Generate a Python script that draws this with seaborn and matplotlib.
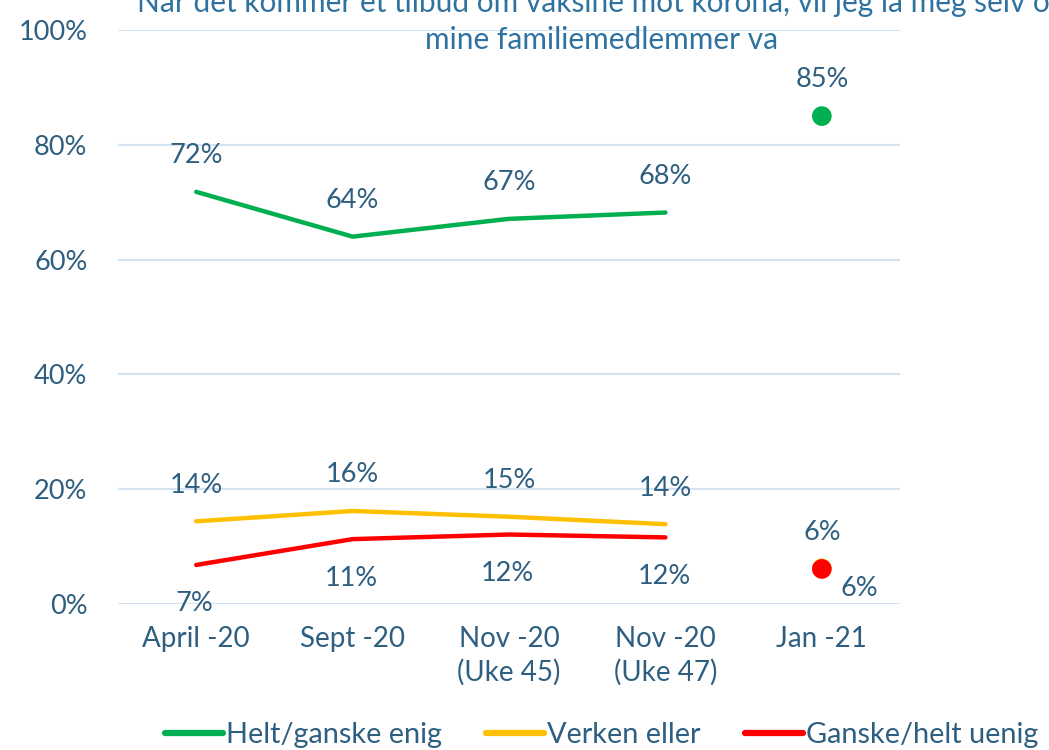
import numpy as np
import pandas as pd
import matplotlib
matplotlib.use("Agg")
import matplotlib.pyplot as plt
import seaborn as sns

# data
periods = ["April -20", "Sept -20", "Nov -20\n(Uke 45)", "Nov -20\n(Uke 47)", "Jan -21"]
enig = [71.8, 64.0, 67.1, 68.2, 85.0]
verken = [14.4, 16.2, 15.2, 13.9, 6.2]
uenig = [6.8, 11.3, 12.1, 11.6, 6.1]
series_names = ["Helt/ganske enig", "Verken eller", "Ganske/helt uenig"]
colors = ["#00B050", "#FFC000", "#FF0000"]
title = ("Når det kommer et tilbud om vaksine mot korona, vil jeg la meg selv og\n"
         "mine familiemedlemmer va")

txt = "#2E5F80"
sns.set_theme(style="white")
plt.rcParams["font.family"] = ["Lato", "DejaVu Sans"]

rows = []
for name, vals in zip(series_names, [enig, verken, uenig]):
    for i, v in enumerate(vals):
        rows.append({"x": i, "serie": name, "verdi": v})
df = pd.DataFrame(rows)
lines = df[df["x"] < 4]   # Jan -21 is a separate survey, shown as dots only
dots = df[df["x"] == 4]

fig = plt.figure(figsize=(10.49, 7.5), dpi=100)
ax = fig.add_axes([0.1125, 0.1947, 0.7455, 0.7653])

sns.lineplot(data=lines, x="x", y="verdi", hue="serie", palette=colors,
             hue_order=series_names, linewidth=3.2, ax=ax, legend=False)
# yellow drawn first so the red dot sits on top, like the original
sns.scatterplot(data=dots, x="x", y="verdi", hue="serie", palette=colors,
                hue_order=series_names, s=200, edgecolor="none",
                ax=ax, legend=False, zorder=5)

# data labels
for i, v in enumerate(enig):
    ax.annotate(f"{v:.0f}%", (i, v), xytext=(0, 26), textcoords="offset points",
                ha="center", va="center", fontsize=19.5, color=txt)
for i, v in enumerate(verken):
    ax.annotate(f"{v:.0f}%", (i, v), xytext=(0, 26), textcoords="offset points",
                ha="center", va="center", fontsize=19.5, color=txt)
for i, v in enumerate(uenig):
    off = (-1, -28) if i < 4 else (27, -14)
    ax.annotate(f"{v:.0f}%", (i, v), xytext=off, textcoords="offset points",
                ha="center", va="center", fontsize=19.5, color=txt)

ax.set_xlim(-0.5, 4.5)
ax.set_ylim(0, 100)
ax.set_xticks(range(len(periods)))
ax.set_xticklabels(periods, fontsize=20, color=txt, linespacing=1.3)
ax.set_yticks([0, 20, 40, 60, 80, 100])
ax.set_yticklabels(["0%", "20%", "40%", "60%", "80%", "100%"], fontsize=19.5, color=txt)
ax.tick_params(axis="x", length=0, pad=16)
ax.tick_params(axis="y", length=0, pad=22)
ax.grid(axis="y", color="#D4E3F1", linewidth=1.5)
ax.set_axisbelow(True)
for s in ax.spines.values():
    s.set_visible(False)
ax.set_xlabel("")
ax.set_ylabel("")

# the original title is cropped at the top edge of the picture
fig.text(0.573, 0.972, title, ha="center", va="center", fontsize=21.5,
         color="#2F72A0", linespacing=1.35)

handles = [plt.Line2D([], [], color=c, linewidth=4.5, solid_capstyle="round")
           for c in colors]
fig.legend(handles, series_names, loc="center left",
           bbox_to_anchor=(165 / 1049, 1 - 735 / 750), ncol=3, frameon=False,
           fontsize=20.8, handlelength=2.0, handletextpad=0.1, columnspacing=1.55,
           borderpad=0, borderaxespad=0, labelcolor=txt)

fig.savefig("out.png", dpi=100)
